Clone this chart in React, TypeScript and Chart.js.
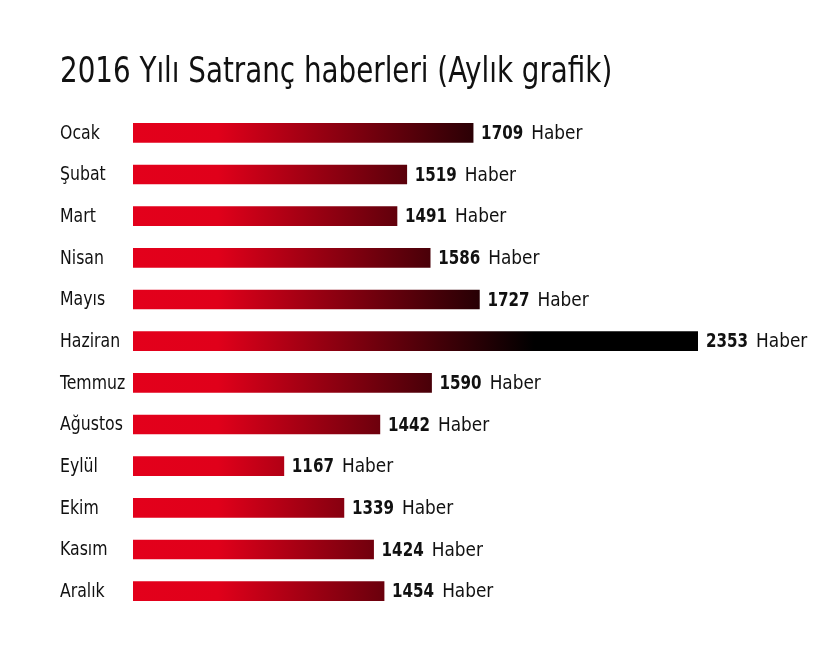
import React, { useEffect, useRef } from "react";
import { Chart, registerables } from "chart.js";

Chart.register(...registerables);

const TITLE = "2016 Yılı Satranç haberleri (Aylık grafik)";
const months = ["Ocak", "Şubat", "Mart", "Nisan", "Mayıs", "Haziran", "Temmuz", "Ağustos", "Eylül", "Ekim", "Kasım", "Aralık"];
const counts = [1709, 1519, 1491, 1586, 1727, 2353, 1590, 1442, 1167, 1339, 1424, 1454];
const UNIT = "Haber";
const X_MIN = 735;
const X_MAX = 2353;

const FONT = "'DejaVu Sans Condensed', 'DejaVu Sans', sans-serif";

function drawSquished(ctx: any, text: string, x: number, y: number, sx: number) {
  ctx.save();
  ctx.translate(x, y);
  ctx.scale(sx, 1);
  ctx.fillText(text, 0, 0);
  const w = ctx.measureText(text).width * sx;
  ctx.restore();
  return w;
}

const textPlugin = {
  id: "textPlugin",
  afterDatasetsDraw(chart: any) {
    const ctx = chart.ctx;
    const meta = chart.getDatasetMeta(0);
    ctx.save();
    ctx.fillStyle = "#111111";
    ctx.textAlign = "left";
    // title
    ctx.textBaseline = "alphabetic";
    ctx.font = `36px ${FONT}`;
    drawSquished(ctx, TITLE, 52, 74, 0.857);
    ctx.textBaseline = "middle";
    meta.data.forEach((bar: any, i: number) => {
      // category label
      ctx.font = `19px ${FONT}`;
      drawSquished(ctx, months[i], 52, bar.y + 1, 0.92);
      // value label
      const x = bar.x + 8;
      const y = bar.y + 1;
      ctx.font = `bold 20px ${FONT}`;
      const w = drawSquished(ctx, String(counts[i]), x, y, 0.84);
      ctx.font = `20px ${FONT}`;
      drawSquished(ctx, UNIT, x + w + 8, y, 0.94);
    });
    ctx.restore();
  },
};

export default function App() {
  const ref = useRef<HTMLCanvasElement | null>(null);
  useEffect(() => {
    if (!ref.current) return;
    const chart = new Chart(ref.current, {
      type: "bar",
      data: {
        labels: months,
        datasets: [
          {
            data: counts,
            barThickness: 19,
            backgroundColor: (c: any) => {
              const ch = c.chart;
              const area = ch.chartArea;
              if (!area) return "#e3001b";
              const g = ch.ctx.createLinearGradient(area.left, 0, area.right, 0);
              g.addColorStop(0, "#e3001b");
              g.addColorStop(0.15, "#e0001a");
              g.addColorStop(0.71, "#000000");
              g.addColorStop(1, "#000000");
              return g;
            },
            borderWidth: 0,
          },
        ],
      },
      options: {
        indexAxis: "y",
        animation: false,
        responsive: true,
        maintainAspectRatio: false,
        layout: { padding: { left: 125, right: 123, top: 104, bottom: 25 } },
        plugins: {
          legend: { display: false },
          tooltip: { enabled: false },
          title: { display: false },
        },
        scales: {
          x: { display: false, min: X_MIN, max: X_MAX },
          y: { display: false },
        },
      },
      plugins: [textPlugin],
    } as any);
    return () => chart.destroy();
  }, []);
  return (
    <div style={{ width: 813, height: 629, background: "#ffffff" }}>
      <canvas ref={ref} />
    </div>
  );
}
